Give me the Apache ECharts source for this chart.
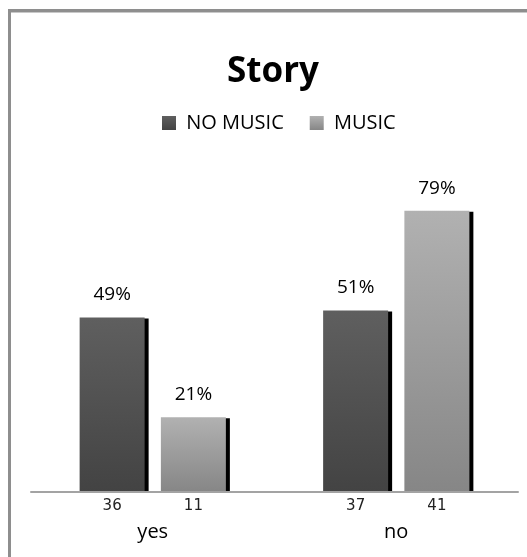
<!DOCTYPE html>
<html>
<head>
<meta charset="utf-8">
<style>
  html, body { margin: 0; padding: 0; background: #fff; }
  #wrap { position: relative; width: 527px; height: 557px; overflow: hidden; }
  #frame {
    position: absolute; left: 8px; top: 9px; width: 560px; height: 600px;
    border-left: 3px solid #8e8e8e; border-top: 3px solid #8e8e8e;
    box-sizing: border-box; pointer-events: none;
  }
  #frame::after {
    content: ""; position: absolute; left: 0; right: 0; top: 0; height: 1px; background: #c8c8c8;
  }
  #chart { position: absolute; left: 0; top: 0; width: 527px; height: 557px; }
</style>
<script src="https://cdn.jsdelivr.net/npm/echarts@6/dist/echarts.min.js"></script>
</head>
<body>
<div id="wrap">
  <div id="chart"></div>
  <div id="frame"></div>
</div>
<script>
// Answer categories and the two listening conditions
const categories = ['yes', 'no'];
const seriesNames = ['NO MUSIC', 'MUSIC'];
// Share of answers, percent
const noMusicPct = [49, 51];
const musicPct = [21, 79];
// Number of respondents behind each bar
const noMusicCount = [36, 37];
const musicCount = [11, 41];

const FONT = '"Open Sans", sans-serif';

function grad(top, bottom) {
  return new echarts.graphic.LinearGradient(0, 0, 0, 1, [
    { offset: 0, color: top },
    { offset: 1, color: bottom }
  ]);
}
const darkFill = grad('#5f5f5f', '#434343');
const lightFill = grad('#b1b1b1', '#868686');

// Bar carrying the percentage on top, with a hard black drop shadow
function pctSeries(name, values, fill, stack) {
  return {
    name: name,
    type: 'bar',
    stack: stack,
    barWidth: 65,
    barGap: '25%',
    data: values,
    itemStyle: {
      color: fill,
      shadowColor: '#000',
      shadowBlur: 0,
      shadowOffsetX: 4,
      shadowOffsetY: 1
    },
    label: {
      show: true,
      position: 'top',
      distance: 13,
      formatter: p => p.value + '%',
      color: '#000',
      fontFamily: FONT,
      fontSize: 19,
      lineHeight: 19
    },
    emphasis: { disabled: true },
    z: 2
  };
}

// Zero-height bar at the base of the same stack, labelled with the count
function countSeries(name, counts, stack) {
  return {
    name: name,
    type: 'bar',
    stack: stack,
    barWidth: 65,
    barGap: '25%',
    data: counts.map(() => 0),
    itemStyle: { color: 'transparent' },
    label: {
      show: true,
      position: 'bottom',
      distance: 7,
      formatter: p => String(counts[p.dataIndex]),
      color: '#222',
      fontFamily: '"DejaVu Sans", sans-serif',
      fontSize: 15,
      lineHeight: 15
    },
    emphasis: { disabled: true },
    silent: true
  };
}

const chart = echarts.init(document.getElementById('chart'), null, { renderer: 'canvas' });
chart.setOption({
  animation: false,
  backgroundColor: 'transparent',
  title: {
    text: 'Story',
    left: 273,
    textAlign: 'center',
    top: 53,
    padding: 0,
    textStyle: {
      fontFamily: FONT,
      fontWeight: 'bold',
      fontSize: 35,
      lineHeight: 38,
      color: '#000'
    }
  },
  legend: {
    data: seriesNames,
    left: 162,
    top: 113,
    padding: 0,
    itemWidth: 14,
    itemHeight: 14,
    itemGap: 26,
    icon: 'rect',
    formatter: n => ' ' + n,
    textStyle: {
      fontFamily: FONT,
      fontSize: 20,
      lineHeight: 20,
      color: '#000'
    }
  },
  grid: { left: 31, right: 9, top: 136, bottom: 65 },
  xAxis: {
    type: 'category',
    data: categories,
    axisLine: { lineStyle: { color: '#a3a3a3', width: 2 } },
    axisTick: { show: false },
    axisLabel: {
      margin: 30,
      fontFamily: FONT,
      fontSize: 20,
      lineHeight: 20,
      color: '#000'
    },
    z: 3
  },
  yAxis: {
    type: 'value',
    min: 0,
    max: 100,
    show: false,
    splitLine: { show: false }
  },
  series: [
    countSeries('NO MUSIC n', noMusicCount, 'a'),
    pctSeries(seriesNames[0], noMusicPct, darkFill, 'a'),
    countSeries('MUSIC n', musicCount, 'b'),
    pctSeries(seriesNames[1], musicPct, lightFill, 'b')
  ]
});
</script>
</body>
</html>
